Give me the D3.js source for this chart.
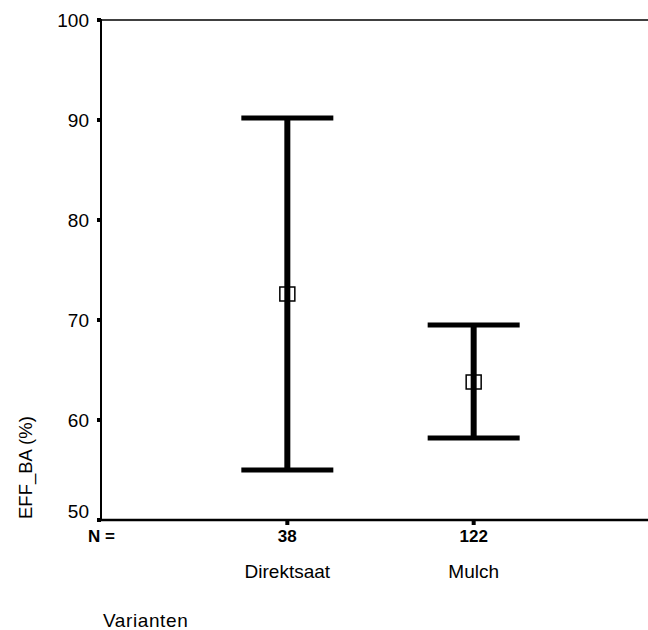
<!DOCTYPE html>
<html>
<head>
<meta charset="utf-8">
<script src="https://cdn.jsdelivr.net/npm/d3@7"></script>
<style>
  body { margin: 0; background: #fff; }
  text { font-family: "Liberation Sans", Arial, sans-serif; fill: #000; }
</style>
</head>
<body>
<svg id="chart" width="648" height="630"></svg>
<script>
const categories = ["Direktsaat", "Mulch"]
const counts = [38, 122]
const means = [72.6, 63.8]
const lower = [55.0, 58.2]
const upper = [90.2, 69.5]
const yTicks = [50, 60, 70, 80, 90, 100]

const svg = d3.select("#chart")

const plotLeft = 101, plotRight = 648, plotTop = 20, plotBottom = 520

const y = d3.scaleLinear()
  .domain([50, 100])
  .range([plotBottom, plotTop])

const x = d3.scalePoint()
  .domain(categories)
  .range([plotLeft, 660])
  .padding(1)

// frame: top line and axes
svg.append("line")
  .attr("x1", plotLeft).attr("x2", plotRight)
  .attr("y1", plotTop).attr("y2", plotTop)
  .attr("stroke", "#000").attr("stroke-width", 1.5)

svg.append("line")
  .attr("x1", plotLeft).attr("x2", plotLeft)
  .attr("y1", plotTop - 1).attr("y2", plotBottom)
  .attr("stroke", "#000").attr("stroke-width", 2)

svg.append("line")
  .attr("x1", plotLeft - 1).attr("x2", plotRight)
  .attr("y1", plotBottom).attr("y2", plotBottom)
  .attr("stroke", "#000").attr("stroke-width", 2.5)

// y ticks (little squares) and labels
svg.selectAll(".ytick")
  .data(yTicks)
  .enter().append("rect")
  .attr("class", "ytick")
  .attr("x", plotLeft - 4)
  .attr("y", d => y(d) - 2)
  .attr("width", 4)
  .attr("height", 4)
  .attr("fill", "#000")

svg.selectAll(".ylabel")
  .data(yTicks)
  .enter().append("text")
  .attr("class", "ylabel")
  .attr("x", 89)
  .attr("y", d => y(d) + (d === 50 ? -2 : 7))
  .attr("text-anchor", "end")
  .style("font-size", "19px")
  .text(d => d)

svg.append("text")
  .attr("transform", `translate(32, ${plotBottom - 1}) rotate(-90)`)
  .attr("text-anchor", "start")
  .style("font-size", "18.5px")
  .text("EFF_BA (%)")

// x ticks
svg.selectAll(".xtick")
  .data(categories)
  .enter().append("rect")
  .attr("class", "xtick")
  .attr("x", d => x(d) - 2)
  .attr("y", plotBottom)
  .attr("width", 4)
  .attr("height", 5)
  .attr("fill", "#000")

svg.append("text")
  .attr("x", 88).attr("y", 542)
  .style("font-size", "17px")
  .style("font-weight", "bold")
  .text("N =")

svg.selectAll(".nlabel")
  .data(categories)
  .enter().append("text")
  .attr("class", "nlabel")
  .attr("x", d => x(d))
  .attr("y", 542)
  .attr("text-anchor", "middle")
  .style("font-size", "17px")
  .style("font-weight", "bold")
  .text((d, i) => counts[i])

svg.selectAll(".xlabel")
  .data(categories)
  .enter().append("text")
  .attr("class", "xlabel")
  .attr("x", d => x(d))
  .attr("y", 578)
  .attr("text-anchor", "middle")
  .style("font-size", "19px")
  .text(d => d)

svg.append("text")
  .attr("x", 103).attr("y", 627)
  .style("font-size", "19px")
  .style("letter-spacing", "0.6px")
  .text("Varianten")

// error bars
const bars = svg.selectAll(".bar")
  .data(categories)
  .enter().append("g")
  .attr("class", "bar")

bars.append("line")
  .attr("x1", d => x(d)).attr("x2", d => x(d))
  .attr("y1", (d, i) => y(upper[i]))
  .attr("y2", (d, i) => y(lower[i]))
  .attr("stroke", "#000").attr("stroke-width", 6)

bars.append("line")
  .attr("x1", d => x(d) - 46).attr("x2", d => x(d) + 46)
  .attr("y1", (d, i) => y(upper[i]))
  .attr("y2", (d, i) => y(upper[i]))
  .attr("stroke", "#000").attr("stroke-width", 5)

bars.append("line")
  .attr("x1", d => x(d) - 46).attr("x2", d => x(d) + 46)
  .attr("y1", (d, i) => y(lower[i]))
  .attr("y2", (d, i) => y(lower[i]))
  .attr("stroke", "#000").attr("stroke-width", 5)

bars.append("rect")
  .attr("x", d => x(d) - 7.5)
  .attr("y", (d, i) => y(means[i]) - 7)
  .attr("width", 15)
  .attr("height", 14)
  .attr("fill", "none")
  .attr("stroke", "#000")
  .attr("stroke-width", 1.5)
</script>
</body>
</html>
